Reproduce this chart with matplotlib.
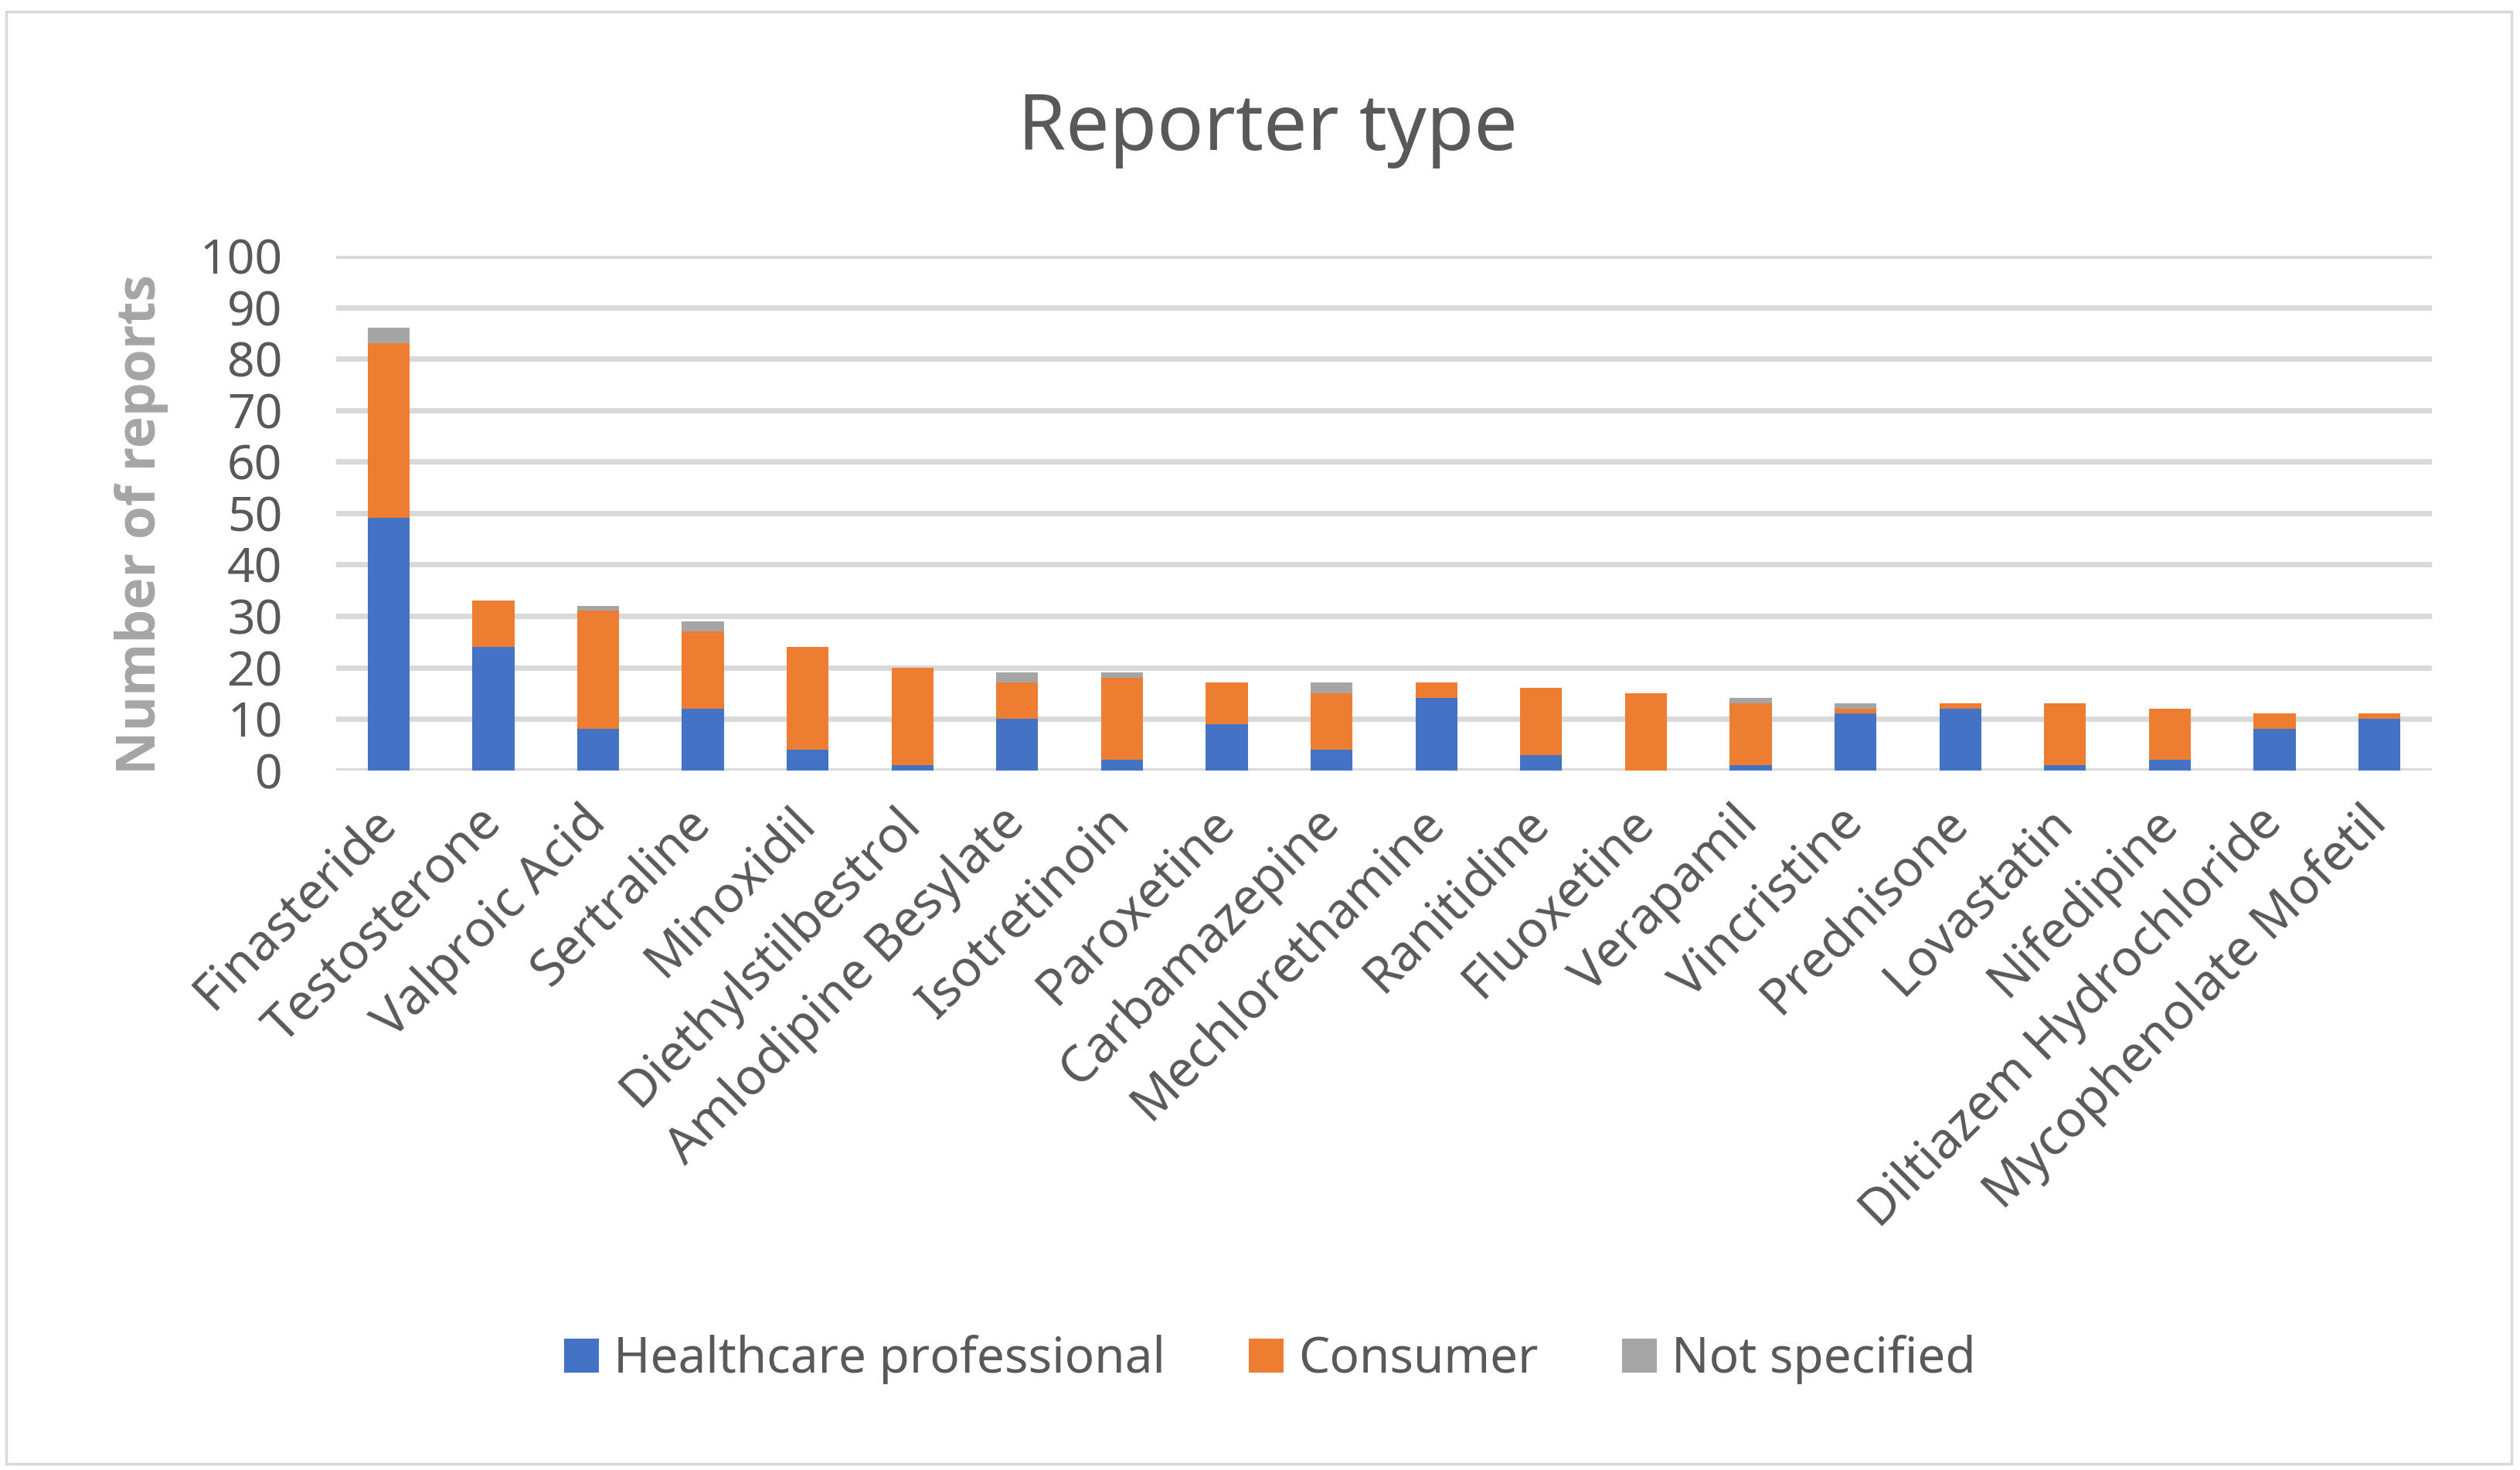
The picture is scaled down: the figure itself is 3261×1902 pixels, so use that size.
import numpy as np
import matplotlib
matplotlib.use("Agg")
import matplotlib.pyplot as plt
from matplotlib.patches import Rectangle

plt.rcParams['font.family'] = ['Noto Sans', 'DejaVu Sans']

drugs = ["Finasteride", "Testosterone", "Valproic Acid", "Sertraline", "Minoxidil",
         "Diethylstilbestrol", "Amlodipine Besylate", "Isotretinoin", "Paroxetine",
         "Carbamazepine", "Mechlorethamine", "Ranitidine", "Fluoxetine", "Verapamil",
         "Vincristine", "Prednisone", "Lovastatin", "Nifedipine",
         "Diltiazem Hydrochloride", "Mycophenolate Mofetil"]
healthcare = [49, 24, 8, 12, 4, 1, 10, 2, 9, 4, 14, 3, 0, 1, 11, 12, 1, 2, 8, 10]
consumer = [34, 9, 23, 15, 20, 19, 7, 16, 8, 11, 3, 13, 15, 12, 1, 1, 12, 10, 3, 1]
not_specified = [3, 0, 1, 2, 0, 0, 2, 1, 0, 2, 0, 0, 0, 1, 1, 0, 0, 0, 0, 0]
yticks = list(range(0, 101, 10))

blue = "#4472c4"
orange = "#ed7d31"
gray = "#a5a5a5"
text_col = "#595959"

fig = plt.figure(figsize=(32.61, 19.02), dpi=100)
ax = fig.add_axes([0.1334, 0.476, 0.8316, 0.350])

x = np.arange(len(drugs))
hc = np.array(healthcare)
co = np.array(consumer)
ns = np.array(not_specified)
w = 0.4
ax.bar(x, hc, w, color=blue, label="Healthcare professional", zorder=3)
ax.bar(x, co, w, bottom=hc, color=orange, label="Consumer", zorder=3)
ax.bar(x, ns, w, bottom=hc + co, color=gray, label="Not specified", zorder=3)

ax.set_xlim(-0.5, len(drugs) - 0.5)
ax.set_ylim(0, 100)
ax.set_yticks(yticks)
ax.yaxis.grid(True, color="#d9d9d9", linewidth=5, zorder=0)
ax.set_axisbelow(True)
for s in ax.spines.values():
    s.set_visible(False)
ax.tick_params(axis='y', length=0, labelsize=45, colors=text_col, pad=50)
ax.tick_params(axis='x', length=0, labelsize=47, colors=text_col, pad=42)
ax.set_xticks(x)
ax.set_xticklabels(drugs, rotation=45, ha='right', va='center', rotation_mode='anchor')
ax.set_ylabel("Number of reports", fontsize=50, fontweight='bold', color=gray,
              family=['Open Sans', 'DejaVu Sans'])
ax.yaxis.set_label_coords(-0.080, 0.478)

fig.text(0.503, 0.912, "Reporter type", ha='center', va='center', fontsize=72, color=text_col)

leg = fig.legend(loc='center', bbox_to_anchor=(0.504, 0.075), ncol=3, frameon=False,
                 fontsize=46, handlelength=0.7, handleheight=0.7, handletextpad=0.3,
                 columnspacing=1.7, labelcolor=text_col)

fig.patches.append(Rectangle((0.0025, 0.004), 0.994, 0.988, transform=fig.transFigure,
                             fill=False, edgecolor="#d9d9d9", linewidth=2.5))

fig.savefig("out.png", dpi=100, facecolor="white")
